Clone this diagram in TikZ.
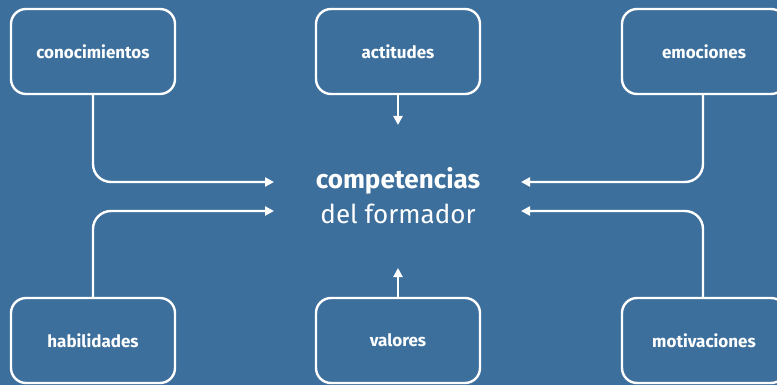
\documentclass[tikz,border=0pt]{standalone}
\usepackage{fontspec}
\setmainfont{Fira Sans}
\usetikzlibrary{arrows.meta}
\definecolor{bg}{RGB}{61,111,156}
\begin{document}
\begin{tikzpicture}[x=1pt,y=-1pt,
  box/.style={draw=white,line width=2.4pt,rounded corners=15pt,minimum width=164pt,minimum height=85pt,text=white,font=\fontsize{17}{19}\selectfont\bfseries,inner sep=0pt},
  conn/.style={draw=white,line width=2.4pt,rounded corners=18pt,-{Triangle[length=9pt,width=9pt]}},
  ctext/.style={text=white,inner sep=0pt}]
\fill[bg] (0,0) rectangle (777,385);
\useasboundingbox (0,0) rectangle (777,385);
\node[box] (con) at (93,51.5) {conocimientos};
\node[box] (act) at (398,51.5) {actitudes};
\node[box] (emo) at (704,51.5) {emociones};
\node[box] (hab) at (93,340.5) {habilidades};
\node[box] (val) at (398,340.5) {valores};
\node[box] (mot) at (704,340.5) {motivaciones};
\node[ctext,font=\fontsize{26}{30}\selectfont\bfseries] (comp) at (398,181) {competencias};
\node[ctext,font=\fontsize{26}{30}\selectfont] (form) at (398,214) {del formador};
\coordinate (t1) at (274,182);
\coordinate (t2) at (274,211);
\coordinate (t3) at (521,182);
\coordinate (t4) at (521,211);
\coordinate (t5) at (398,125);
\coordinate (t6) at (398,268);
\draw[conn] (con.south) |- (t1);
\draw[conn] (hab.north) |- (t2);
\draw[conn] (emo.south -| 703,0) |- (t3);
\draw[conn] (mot.north -| 703,0) |- (t4);
\draw[conn] (act.south) -- (t5);
\draw[conn] (val.north) -- (t6);
\end{tikzpicture}
\end{document}
